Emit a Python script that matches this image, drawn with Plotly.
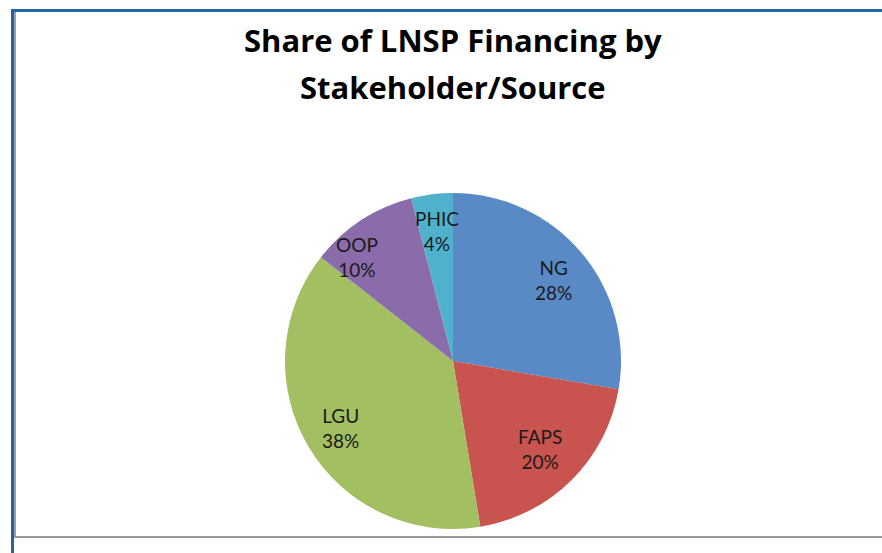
import math
import plotly.graph_objects as go

labels = ["NG", "FAPS", "LGU", "OOP", "PHIC"]
values = [27.7, 19.7, 38.2, 10.4, 4.0]
colors = ["#5A8AC6", "#C8534F", "#A2BF62", "#8A6CAB", "#4FB1CC"]
title_lines = ["Share of LNSP Financing by", "Stakeholder/Source"]

# body margin is removed via post_script, so figure pixels == page pixels
W, H = 882, 553
cx, cy, r = 453, 361, 168

fig = go.Figure(go.Pie(
    labels=labels,
    values=values,
    sort=False,
    direction="clockwise",
    rotation=0,
    marker=dict(colors=colors, line=dict(width=0)),
    textinfo="none",
    showlegend=False,
    hoverinfo="label+percent",
    domain=dict(x=[(cx - r) / W, (cx + r) / W], y=[1 - (cy + r) / H, 1 - (cy - r) / H]),
))

# data labels, placed along each slice's mid-angle (derived from the values)
label_nudge = {"OOP": (-24, 6), "FAPS": (-5, -5), "NG": (0, 3)}
total = sum(values)
annotations = []
cum = 0.0
for lab, v in zip(labels, values):
    mid = (cum + v / 2) / total * 2 * math.pi
    cum += v
    d = 0.78 * r
    px = cx + d * math.sin(mid)
    py = cy - d * math.cos(mid)
    nx, ny = label_nudge.get(lab, (0, 0))
    px += nx
    py += ny
    annotations.append(dict(
        x=px / W, y=1 - py / H, xref="paper", yref="paper",
        text=f"{lab}<br>{round(v / total * 100):d}%",
        showarrow=False, xanchor="center", yanchor="middle",
        font=dict(family="Lato", size=19, color="#1a1a1a"),
    ))

# title, one annotation per line to match the wide line spacing
for line, ypage in zip(title_lines, [40, 87]):
    annotations.append(dict(
        x=453 / W, y=1 - ypage / H, xref="paper", yref="paper",
        text=line, showarrow=False, xanchor="center", yanchor="middle",
        font=dict(family="Open Sans", size=31, color="#000000", weight="bold"),
    ))

shapes = [
    dict(type="line", xref="paper", yref="paper", x0=11 / W, x1=1,
         y0=1 - 10.5 / H, y1=1 - 10.5 / H,
         line=dict(color="#1F66A8", width=3)),
    dict(type="line", xref="paper", yref="paper", x0=12.5 / W, x1=12.5 / W,
         y0=0, y1=1 - 9 / H,
         line=dict(color="#1F66A8", width=3)),
    dict(type="line", xref="paper", yref="paper", x0=15 / W, x1=15 / W,
         y0=1 - 537 / H, y1=1 - 12 / H,
         line=dict(color="#A0A0A0", width=2)),
    dict(type="line", xref="paper", yref="paper", x0=14 / W, x1=1,
         y0=1 - 537 / H, y1=1 - 537 / H,
         line=dict(color="#9A9A9A", width=2)),
]

fig.update_layout(
    width=W, height=H,
    margin=dict(l=0, r=0, t=0, b=0),
    paper_bgcolor="white",
    plot_bgcolor="white",
    shapes=shapes,
    annotations=annotations,
)

fig.write_html(
    "out.html",
    config={"displayModeBar": False},
    post_script="document.body.style.margin='0';document.body.style.overflow='hidden';",
)
